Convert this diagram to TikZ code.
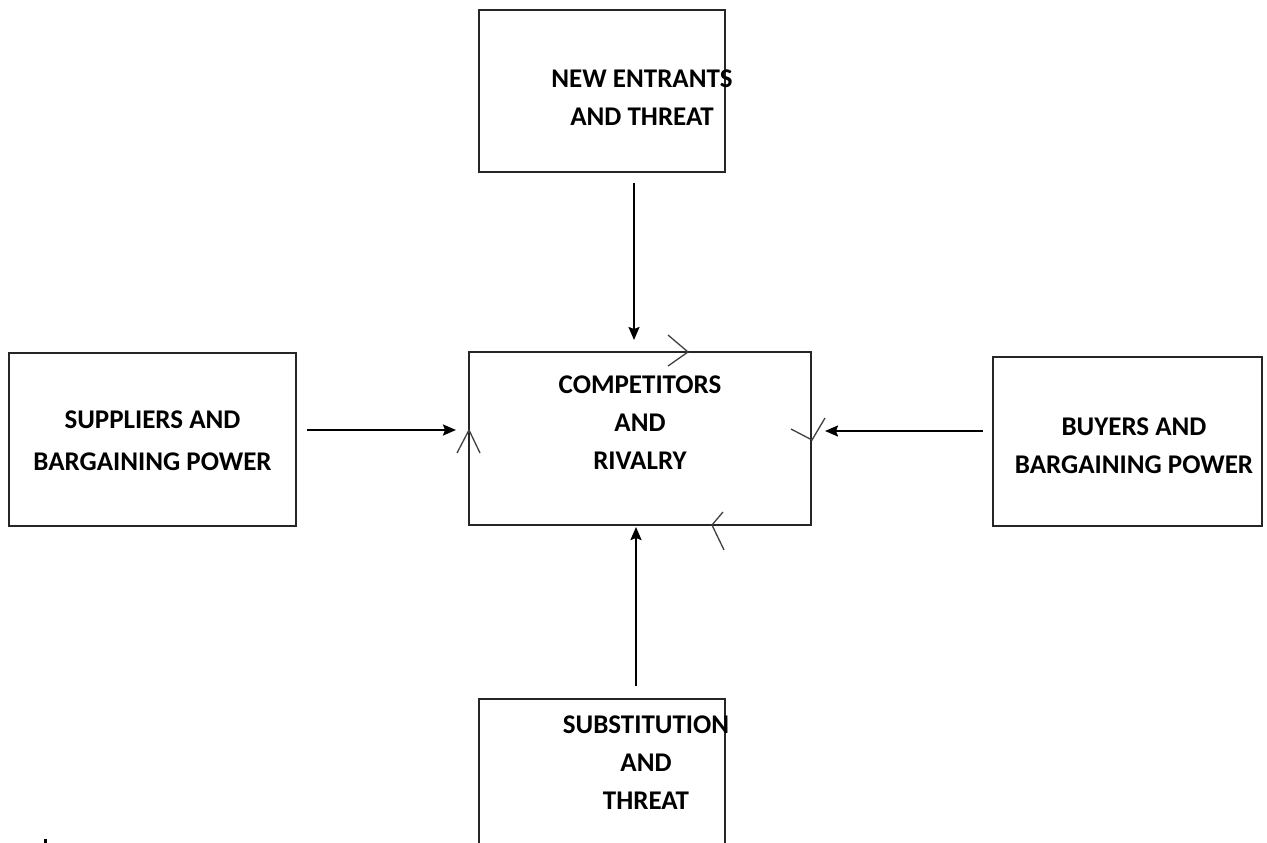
\documentclass[tikz,border=0pt]{standalone}
\usepackage{fontspec}
\setmainfont{Carlito}
\usetikzlibrary{arrows.meta}
\tikzset{
  box/.style={draw=black!85, line width=1.5pt, rectangle, inner sep=0pt, outer sep=0pt},
  lbl/.style={align=center, font=\bfseries\fontsize{27}{38}\selectfont, text=black, inner sep=0pt},
  arr/.style={line width=2pt, -{Stealth[length=13pt,width=11pt,inset=2pt]}},
  chev/.style={line width=1.3pt, draw=black!75}
}
\begin{document}
\begin{tikzpicture}[x=1pt,y=-1pt]
\useasboundingbox (0,0) rectangle (1267,843);
\clip (0,0) rectangle (1267,843);
% boxes
\node[box, minimum width=246pt, minimum height=162pt] (top) at (602,91) {};
\node[box, minimum width=287pt, minimum height=173pt] (left) at (152.5,439.5) {};
\node[box, minimum width=342pt, minimum height=173pt] (center) at (640,438.5) {};
\node[box, minimum width=269pt, minimum height=169pt] (right) at (1127.5,441.5) {};
\node[box, minimum width=246pt, minimum height=201pt] (bottom) at (602,799.5) {};
% labels
\node[lbl] (toplbl) at (642,97.5) {NEW ENTRANTS\\AND THREAT};
\node[lbl, font=\bfseries\fontsize{27}{42}\selectfont] (leftlbl) at (152.5,441) {SUPPLIERS AND\\BARGAINING POWER};
\node[lbl] (centerlbl) at (640,423) {COMPETITORS\\AND\\RIVALRY};
\node[lbl] (rightlbl) at (1134,446) {BUYERS AND\\BARGAINING POWER};
\node[lbl] (bottomlbl) at (646,763) {SUBSTITUTION\\AND\\THREAT};
% arrows
\draw[arr] ([xshift=32pt,yshift=-11pt]top.south) -- ([xshift=-6pt,yshift=12pt]center.north);
\draw[arr] ([xshift=11pt,yshift=9.5pt]left.east) -- ([xshift=-13pt,yshift=8.5pt]center.west);
\draw[arr] ([xshift=-10pt,yshift=10.5pt]right.west) -- ([xshift=14pt,yshift=7.5pt]center.east);
\draw[arr] ([xshift=34pt,yshift=13pt]bottom.north) -- ([xshift=-4pt,yshift=-2pt]center.south);
% stray chevrons
\draw[chev] (668,335) -- (688,352) -- (668,366);
\draw[chev] (457,453) -- (469,430) -- (480,453);
\draw[chev] (791,429) -- (812,440) -- (825,418);
\draw[chev] (723,512) -- (712,525) -- (724,550);
% stray dot
\fill[black] (44,839) rectangle (47,843);
\end{tikzpicture}
\end{document}
